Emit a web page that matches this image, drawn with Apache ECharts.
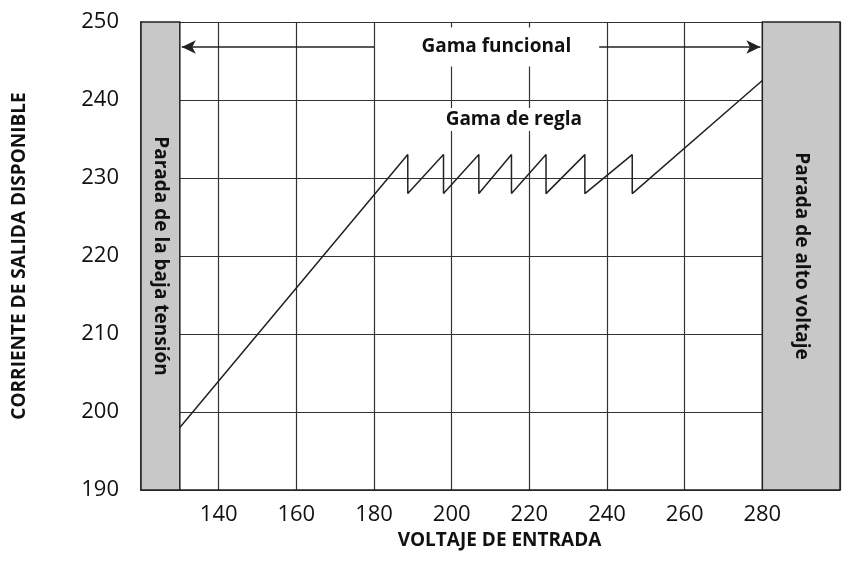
<!DOCTYPE html><html><head><meta charset="utf-8"><script src="https://cdn.jsdelivr.net/npm/echarts@6/dist/echarts.min.js"></script></head><body style="margin:0;background:#fff"><div id="c" style="width:845px;height:570px"></div><script>
const xTicks=[140,160,180,200,220,240,260,280];
const curveX=[130,188.7,188.7,197.9,197.9,207,207,215.4,215.4,224.3,224.3,234.3,234.3,246.5,246.5,280];
const curveY=[198,233,228,233,228,233,228,233,228,233,228,233,228,233,228,242.5];
const zones=[[120,130,'Parada de la baja tensión'],[280,300,'Parada de alto voltaje']];
const labels=[['Gama funcional',211.5,246.8],['Gama de regla',216,237.5]];
const F='"Open Sans", sans-serif';
const ch=echarts.init(document.getElementById('c'));
ch.setOption({animation:false,
grid:{left:141,right:5,top:22,bottom:80},
xAxis:{type:'value',min:120,max:300,interval:20,name:'VOLTAJE DE ENTRADA',nameLocation:'middle',nameGap:40,
 nameTextStyle:{fontFamily:F,fontWeight:'bold',fontSize:19,color:'#111',padding:[0,0,0,18]},
 axisLine:{lineStyle:{color:'#222',width:1.5}},axisTick:{show:false},
 axisLabel:{fontFamily:F,fontSize:22,color:'#111',margin:14,formatter:v=>xTicks.includes(v)?v:''},
 splitLine:{lineStyle:{color:'#333',width:1.2}}},
yAxis:{type:'value',min:190,max:250,interval:10,name:'CORRIENTE DE SALIDA DISPONIBLE',nameLocation:'middle',nameGap:112,
 nameTextStyle:{fontFamily:F,fontWeight:'bold',fontSize:19,color:'#111'},
 axisLine:{show:true,lineStyle:{color:'#222',width:1.5}},axisTick:{show:false},
 axisLabel:{fontFamily:F,fontSize:22,color:'#111',margin:22},
 splitLine:{lineStyle:{color:'#333',width:1.2}}},
series:[
{type:'line',data:curveX.map((x,i)=>[x,curveY[i]]),symbol:'none',lineStyle:{color:'#222',width:1.5},z:5,
 markArea:{silent:true,itemStyle:{color:'#c8c8c8',borderColor:'#222',borderWidth:1.5},
  label:{position:'inside',rotate:-90,fontFamily:F,fontWeight:'bold',fontSize:19,color:'#111'},
  data:zones.map(z=>[{xAxis:z[0],name:z[2]},{xAxis:z[1]}])},
 markLine:{silent:true,symbol:['arrow','none'],symbolSize:[10,14],lineStyle:{color:'#222',width:1.5,type:'solid'},label:{show:false},
  data:[[{coord:[130.5,246.8],symbol:'arrow'},{coord:[180,246.8],symbol:'none'}],[{coord:[237,246.8],symbol:'none'},{coord:[279.5,246.8],symbol:'arrow'}]]}}
]});
const g=labels.map((l,i)=>{const p=ch.convertToPixel('grid',[l[1],l[2]]);
 return {type:'text',x:p[0],y:p[1],z:100,style:{text:l[0],fontFamily:F,fontWeight:'bold',fontSize:19,fill:'#111',align:'center',verticalAlign:'middle',backgroundColor:'#fff',padding:i==0?[10,28]:[2,4]}};});
ch.setOption({graphic:g});
</script></body></html>
